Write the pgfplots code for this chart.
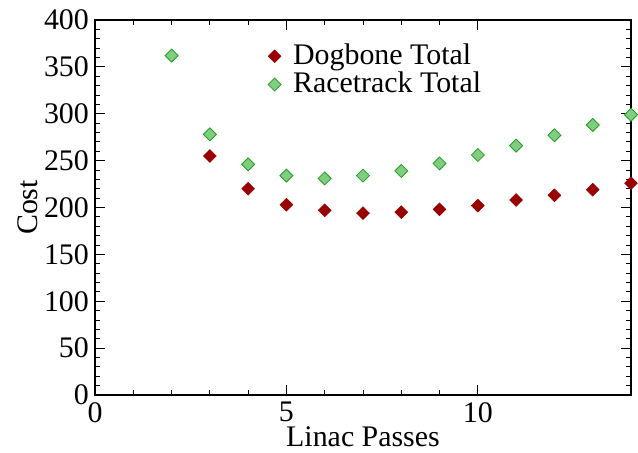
\documentclass[border=0pt]{standalone}
\usepackage{fontspec}
\setmainfont{Liberation Serif}
\usepackage{pgfplots}
\pgfplotsset{compat=1.18}
\definecolor{dogred}{HTML}{990000}
\definecolor{racefill}{HTML}{80CC80}
\definecolor{raceedge}{HTML}{22A022}

\begin{document}
\fontsize{30}{32}\selectfont
\begin{tikzpicture}
\begin{axis}[
  scale only axis, width=536bp, height=375bp,
  xmin=0, xmax=14, ymin=0, ymax=400,
  xtick={0,5,10}, minor x tick num=4,
  ytick={0,50,...,400}, minor y tick num=4,
  tick align=inside, major tick length=10bp, minor tick length=5bp,
  every tick/.style={black, line width=0.9pt},
  axis line style={line width=1.2pt},
  /pgf/number format/assume math mode=true,
  ticklabel style={font=\rmfamily\fontsize{30}{32}\selectfont},
  xticklabel style={yshift=3bp},
  yticklabel style={xshift=4bp},
  xlabel={Linac Passes}, ylabel={Cost},
  label style={font=\rmfamily\fontsize{30}{32}\selectfont},
  xlabel style={yshift=16bp},
  ylabel style={yshift=-14bp},
  clip=false,
  legend style={draw=none, fill=none, at={(0.317,0.948)}, anchor=north west,
    font=\rmfamily\fontsize{30}{32}\selectfont, row sep=-1bp},
  legend cell align=left,
]
\addplot[only marks, mark=square*, mark size=4.6bp,
  mark options={rotate=45, fill=dogred, draw=dogred}] coordinates {
  (3,255) (4,220) (5,203) (6,197) (7,194) (8,195) (9,198)
  (10,202) (11,208) (12,213) (13,219) (14,226)
};
\addlegendentry{\hspace{10bp}Dogbone Total}
\addplot[only marks, mark=square*, mark size=4.6bp,
  mark options={rotate=45, fill=racefill, draw=raceedge, line width=0.8pt}] coordinates {
  (2,362) (3,278) (4,246) (5,234) (6,231) (7,234) (8,239) (9,247)
  (10,256) (11,266) (12,277) (13,288) (14,299)
};
\addlegendentry{\hspace{10bp}Racetrack Total}
\end{axis}
\pgfresetboundingbox
\path (-95bp,-58bp) rectangle (543bp,395bp);
\end{tikzpicture}
\end{document}
